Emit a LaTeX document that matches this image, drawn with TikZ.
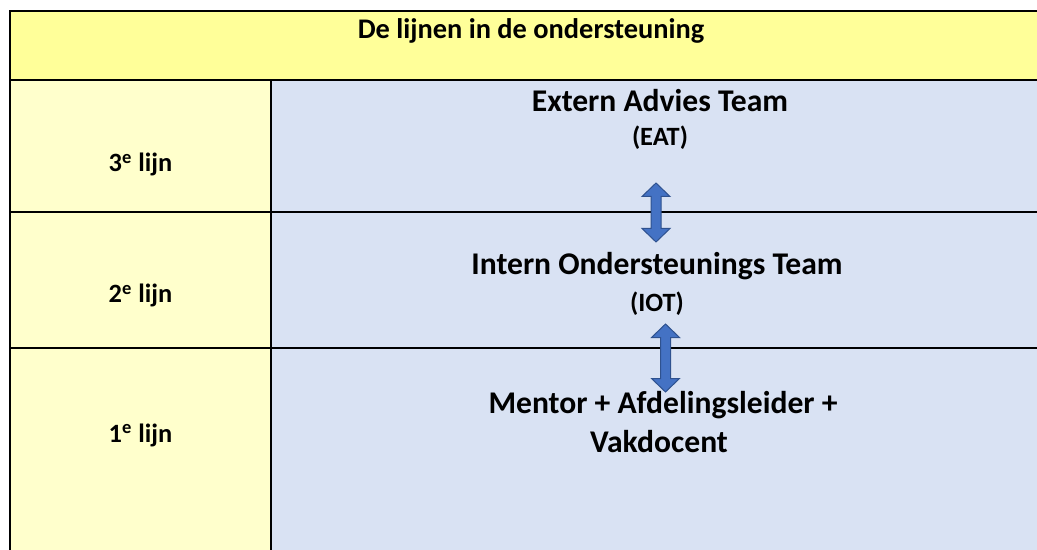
\documentclass[tikz,border=0pt]{standalone}
\usepackage{fontspec}
\setmainfont{Carlito}
\usetikzlibrary{positioning}
\definecolor{kopgeel}{RGB}{255,255,153}
\definecolor{lijngeel}{RGB}{255,255,204}
\definecolor{celblauw}{RGB}{217,226,243}
\definecolor{pijlblauw}{RGB}{68,114,196}
\definecolor{pijlrand}{RGB}{47,82,143}
\tikzset{
  rand/.style={draw=black, line width=1pt},
  kopje/.style={anchor=base, inner sep=0pt,
    font=\fontsize{14.2}{17}\selectfont\bfseries},
  lijnlabel/.style={anchor=base, inner sep=0pt,
    font=\fontsize{13.2}{16}\selectfont\bfseries},
  teamnaam/.style={anchor=base, inner sep=0pt,
    font=\fontsize{15.8}{19}\selectfont\bfseries},
  afkorting/.style={anchor=base, inner sep=0pt,
    font=\fontsize{13.2}{16}\selectfont\bfseries},
  pijl/.style={fill=pijlblauw, draw=pijlrand, line width=0.5pt, line join=miter}
}
% up-down block arrow: x, top, shaft length
\newcommand{\dubbelpijl}[3]{%
  \filldraw[pijl] (#1,#2) -- ++(14,13.5) -- ++(-9,0) -- ++(0,#3) -- ++(9,0)
    -- ++(-14,13.5) -- ++(-14,-13.5) -- ++(9,0) -- ++(0,-#3) -- ++(-9,0) -- cycle;
}

\begin{document}
\begin{tikzpicture}[x=0.5pt, y=-0.5pt]
\clip (0,0) rectangle (1037,550);

% cells
\fill[kopgeel] (10,11) rectangle (1052,80);
\fill[lijngeel] (10,80) rectangle (271,570);
\fill[celblauw] (271,80) rectangle (1052,570);

% borders
\draw[rand] (10,570) -- (10,11) -- (1052,11);
\draw[rand] (10,80) -- (1052,80);
\draw[rand] (10,212) -- (1052,212);
\draw[rand] (10,348) -- (1052,348);
\draw[rand] (271,80) -- (271,570);

% texts
\node[kopje] (titel) at (531,39) {De lijnen in de ondersteuning};

\node[lijnlabel] (lijn3) at (140.5,172) {3\textsuperscript{e} lijn};
\node[lijnlabel] (lijn2) at (140.5,303) {2\textsuperscript{e} lijn};
\node[lijnlabel] (lijn1) at (140.5,442) {1\textsuperscript{e} lijn};

\node[teamnaam] (eat) at (660,112) {Extern Advies Team};
\node[afkorting] (eatkort) at (660,146) {(EAT)};
\node[teamnaam] (iot) at (657,275) {Intern Ondersteunings Team};
\node[afkorting] (iotkort) at (657,312) {(IOT)};
\node[teamnaam] (mentor) at (663,413) {Mentor + Afdelingsleider +};
\node[teamnaam] (vakdocent) at (659,452) {Vakdocent};

% arrows
\dubbelpijl{656}{183}{32}
\dubbelpijl{665.5}{324}{41}
\end{tikzpicture}
\end{document}
